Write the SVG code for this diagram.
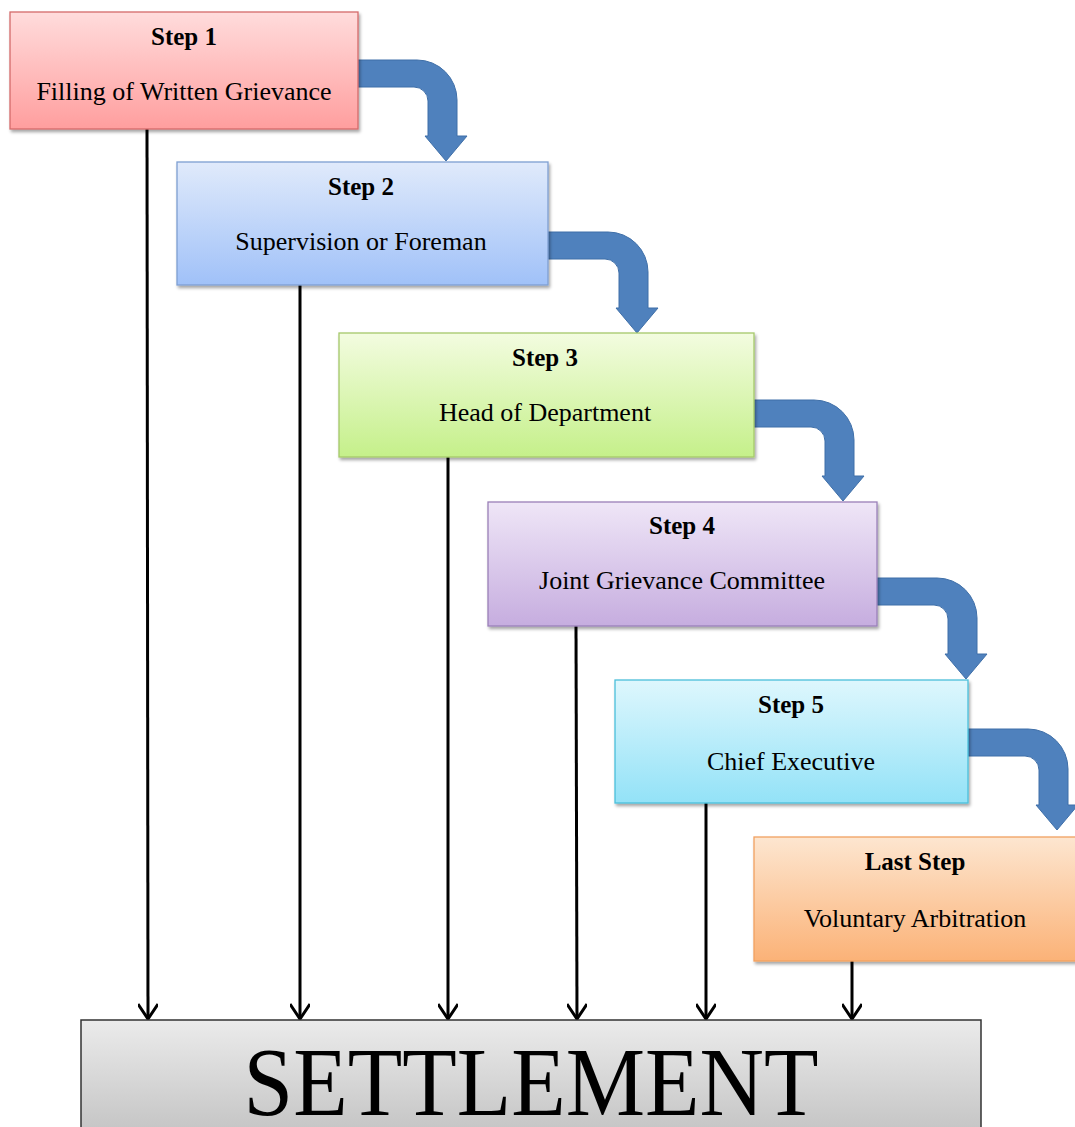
<svg xmlns="http://www.w3.org/2000/svg" width="1075" height="1127" viewBox="0 0 1075 1127">
<style>
.t1{font-family:"Liberation Serif","Times New Roman",serif;font-weight:bold;font-size:25px;fill:#000;text-anchor:middle}
.t2{font-family:"Liberation Serif","Times New Roman",serif;font-size:26px;fill:#000;text-anchor:middle}
.big{font-family:"Liberation Serif","Times New Roman",serif;font-size:98px;fill:#000;text-anchor:middle}
.box{stroke-width:1.3;filter:url(#sh)}
.bend{fill:#4f81bd;stroke:#3f6fa8;stroke-width:1}
.conn{stroke:#000;stroke-width:3;fill:none;marker-end:url(#ah)}
</style>
<defs>
<filter id="sh" x="-5%" y="-5%" width="115%" height="120%">
<feDropShadow dx="1.5" dy="2.5" stdDeviation="1.8" flood-color="#000" flood-opacity="0.35"/>
</filter>
<linearGradient id="g1" x1="0" y1="0" x2="0" y2="1"><stop offset="0" stop-color="#ffdcdc"/><stop offset="1" stop-color="#ff9e9e"/></linearGradient>
<linearGradient id="g2" x1="0" y1="0" x2="0" y2="1"><stop offset="0" stop-color="#e0eafb"/><stop offset="1" stop-color="#a0c1f8"/></linearGradient>
<linearGradient id="g3" x1="0" y1="0" x2="0" y2="1"><stop offset="0" stop-color="#f3fce0"/><stop offset="1" stop-color="#c5f08a"/></linearGradient>
<linearGradient id="g4" x1="0" y1="0" x2="0" y2="1"><stop offset="0" stop-color="#efe6f7"/><stop offset="1" stop-color="#c6addf"/></linearGradient>
<linearGradient id="g5" x1="0" y1="0" x2="0" y2="1"><stop offset="0" stop-color="#def7fd"/><stop offset="1" stop-color="#93e2f7"/></linearGradient>
<linearGradient id="g6" x1="0" y1="0" x2="0" y2="1"><stop offset="0" stop-color="#fde6d0"/><stop offset="1" stop-color="#fbb277"/></linearGradient>
<linearGradient id="g7" x1="0" y1="0" x2="0" y2="1"><stop offset="0" stop-color="#ebebeb"/><stop offset="1" stop-color="#c2c2c2"/></linearGradient>
<marker id="ah" viewBox="0 0 20 20" refX="18" refY="10" markerWidth="20" markerHeight="20" markerUnits="userSpaceOnUse" orient="auto">
<path d="M3,0 L18,10 L3,20" fill="none" stroke="#000" stroke-width="3"/>
</marker>
<path id="bend" d="M0,0 H60 A40 40 0 0 1 100,40 V76 H110 L89,101 L68,76 H71 V41 A14 14 0 0 0 57,27 H0 Z"/>
</defs>

<g id="connectors">
<line class="conn" x1="147" y1="129" x2="148" y2="1019"/>
<line class="conn" x1="300" y1="285" x2="300" y2="1019"/>
<line class="conn" x1="448" y1="457" x2="448" y2="1019"/>
<line class="conn" x1="576" y1="626" x2="577" y2="1019"/>
<line class="conn" x1="706" y1="803" x2="706" y2="1019"/>
<line class="conn" x1="852" y1="961" x2="852" y2="1019"/>
<use href="#bend" class="bend" x="357" y="60"/>
<use href="#bend" class="bend" x="548" y="232"/>
<use href="#bend" class="bend" x="754" y="400"/>
<use href="#bend" class="bend" x="877" y="578"/>
<use href="#bend" class="bend" x="968" y="729"/>
</g>

<g id="step1">
<rect class="box" x="10" y="12" width="348" height="117" fill="url(#g1)" stroke="#d46a6a"/>
<text class="t1" x="184" y="45">Step 1</text>
<text class="t2" x="184" y="100">Filling of Written Grievance</text>
</g>
<g id="step2">
<rect class="box" x="177" y="162" width="371" height="123" fill="url(#g2)" stroke="#7e9fd2"/>
<text class="t1" x="361" y="195">Step 2</text>
<text class="t2" x="361" y="250">Supervision or Foreman</text>
</g>
<g id="step3">
<rect class="box" x="339" y="333" width="415" height="124" fill="url(#g3)" stroke="#a5c86a"/>
<text class="t1" x="545" y="366">Step 3</text>
<text class="t2" x="545" y="421">Head of Department</text>
</g>
<g id="step4">
<rect class="box" x="488" y="502" width="389" height="124" fill="url(#g4)" stroke="#9a80b8"/>
<text class="t1" x="682" y="534">Step 4</text>
<text class="t2" x="682" y="589">Joint Grievance Committee</text>
</g>
<g id="step5">
<rect class="box" x="615" y="680" width="353" height="123" fill="url(#g5)" stroke="#4bbfdb"/>
<text class="t1" x="791" y="713">Step 5</text>
<text class="t2" x="791" y="770">Chief Executive</text>
</g>
<g id="laststep">
<rect class="box" x="754" y="837" width="330" height="124" fill="url(#g6)" stroke="#f2a160"/>
<text class="t1" x="915" y="870">Last Step</text>
<text class="t2" x="915" y="927">Voluntary Arbitration</text>
</g>
<g id="settlement">
<rect x="81" y="1020" width="900" height="120" fill="url(#g7)" stroke="#333" stroke-width="1.5"/>
<text class="big" x="531" y="1115" textLength="575" lengthAdjust="spacingAndGlyphs">SETTLEMENT</text>
</g>
</svg>
